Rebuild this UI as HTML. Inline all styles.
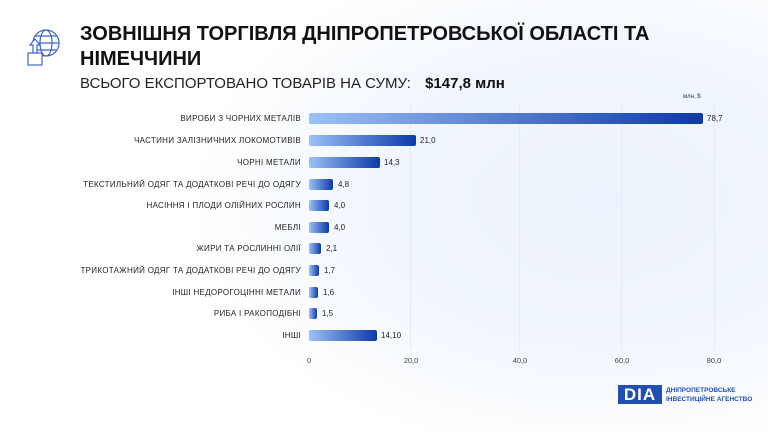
<!DOCTYPE html>
<html style="overflow:hidden;width:768px;height:432px"><head><meta charset="utf-8"><style>
body{margin:0;width:768px;height:432px;overflow:hidden;font-family:"Liberation Sans",sans-serif;position:relative;background:radial-gradient(ellipse 410px 260px at 600px 200px,#edf3fc 0%,#f1f6fd 55%,#fff 100%)}
.t{position:absolute;left:80px;top:22px;font-size:20px;font-weight:bold;color:#111;line-height:25px;letter-spacing:0}
.s{position:absolute;left:80px;top:75px;font-size:15px;color:#222}
.s b{margin-left:10px;color:#111}
.lab{position:absolute;right:467px;font-size:8px;color:#222;text-align:right;white-space:nowrap;letter-spacing:.3px}
.bar{position:absolute;left:309px;height:11px;border-radius:2px;background:linear-gradient(90deg,#9cc0f7,#0c3aa8)}
.v{position:absolute;font-size:8px;color:#222}
.g{position:absolute;top:105px;height:245px;width:1px;background:#e6ebf2}
.tk{position:absolute;top:356px;font-size:7.5px;color:#444;transform:translateX(-50%)}
</style></head><body>
<svg style="position:absolute;left:26px;top:27px" width="36" height="42" viewBox="0 0 36 42" fill="none" stroke="#3e68c8" stroke-width="1.2"><circle cx="20" cy="16" r="13"/><ellipse cx="20" cy="16" rx="6" ry="13"/><line x1="7" y1="16" x2="33" y2="16"/><line x1="9" y1="9" x2="31" y2="9"/><line x1="9" y1="23" x2="31" y2="23"/><rect x="2" y="26" width="14" height="12" fill="#fff"/><path d="M9 12 L4 18 H7 V26 H11 V18 H14 Z" fill="#fff"/></svg>
<div class="t">ЗОВНІШНЯ ТОРГІВЛЯ ДНІПРОПЕТРОВСЬКОЇ ОБЛАСТІ ТА<br>НІМЕЧЧИНИ</div>
<div class="s">ВСЬОГО ЕКСПОРТОВАНО ТОВАРІВ НА СУМУ: <b>$147,8 млн</b></div>
<div style="position:absolute;left:683px;top:94px;font-size:6px;color:#333">млн, $</div>
<div class="g" style="left:410px"></div><div class="g" style="left:519px"></div><div class="g" style="left:621px"></div><div class="g" style="left:714px"></div>
<div class="tk" style="left:309px">0</div><div class="tk" style="left:411px">20,0</div><div class="tk" style="left:520px">40,0</div><div class="tk" style="left:622px">60,0</div><div class="tk" style="left:714px">80,0</div>
<div class="lab" style="top:114px">ВИРОБИ З ЧОРНИХ МЕТАЛІВ</div><div class="bar" style="top:113px;width:394px"></div><div class="v" style="left:707px;top:114px">78,7</div>
<div class="lab" style="top:136px">ЧАСТИНИ ЗАЛІЗНИЧНИХ ЛОКОМОТИВІВ</div><div class="bar" style="top:135px;width:107px"></div><div class="v" style="left:420px;top:136px">21,0</div>
<div class="lab" style="top:158px">ЧОРНІ МЕТАЛИ</div><div class="bar" style="top:157px;width:71px"></div><div class="v" style="left:384px;top:158px">14,3</div>
<div class="lab" style="top:180px">ТЕКСТИЛЬНИЙ ОДЯГ ТА ДОДАТКОВІ РЕЧІ ДО ОДЯГУ</div><div class="bar" style="top:179px;width:24px"></div><div class="v" style="left:338px;top:180px">4,8</div>
<div class="lab" style="top:201px">НАСІННЯ І ПЛОДИ ОЛІЙНИХ РОСЛИН</div><div class="bar" style="top:200px;width:20px"></div><div class="v" style="left:334px;top:201px">4,0</div>
<div class="lab" style="top:223px">МЕБЛІ</div><div class="bar" style="top:222px;width:20px"></div><div class="v" style="left:334px;top:223px">4,0</div>
<div class="lab" style="top:244px">ЖИРИ ТА РОСЛИННІ ОЛІЇ</div><div class="bar" style="top:243px;width:12px"></div><div class="v" style="left:326px;top:244px">2,1</div>
<div class="lab" style="top:266px">ТРИКОТАЖНИЙ ОДЯГ ТА ДОДАТКОВІ РЕЧІ ДО ОДЯГУ</div><div class="bar" style="top:265px;width:10px"></div><div class="v" style="left:324px;top:266px">1,7</div>
<div class="lab" style="top:288px">ІНШІ НЕДОРОГОЦІННІ МЕТАЛИ</div><div class="bar" style="top:287px;width:9px"></div><div class="v" style="left:323px;top:288px">1,6</div>
<div class="lab" style="top:309px">РИБА І РАКОПОДІБНІ</div><div class="bar" style="top:308px;width:8px"></div><div class="v" style="left:322px;top:309px">1,5</div>
<div class="lab" style="top:331px">ІНШІ</div><div class="bar" style="top:330px;width:68px"></div><div class="v" style="left:381px;top:331px">14,10</div>
<div style="position:absolute;left:618px;top:385px;width:44px;height:19px;background:#1f4fb0;color:#fff;font-weight:bold;font-size:17px;line-height:19px;text-align:center;letter-spacing:1px">DIA</div>
<div style="position:absolute;left:666px;top:386px;font-size:6.5px;line-height:9px;color:#1f4fb0;font-weight:bold">ДНІПРОПЕТРОВСЬКЕ<br>ІНВЕСТИЦІЙНЕ АГЕНСТВО</div>
</body></html>
